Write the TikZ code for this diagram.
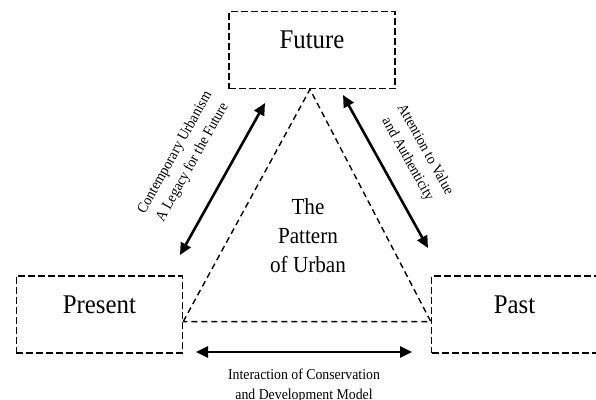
\documentclass[tikz,border=0pt]{standalone}
\usepackage{fontspec}
\setmainfont{Liberation Serif}[FakeStretch=0.92]
\usetikzlibrary{arrows.meta, positioning}

\begin{document}
\begin{tikzpicture}[
  x=1pt, y=-1pt,
  node distance=186pt and 45pt,
  box/.style={rectangle, draw, dash pattern=on 7pt off 3pt, line width=1.6pt, minimum width=166pt, minimum height=77pt, inner sep=0pt, text height=19pt, text depth=22pt, font=\fontsize{27}{30}\selectfont},
  tri/.style={dash pattern=on 6pt off 4pt, line width=1.4pt},
  dbl/.style={{Triangle[length=12pt, width=11pt]}-{Triangle[length=12pt, width=11pt]}, line width=2.6pt},
  note/.style={font=\fontsize{15}{20}\selectfont, align=center, inner sep=0pt}
]
  \useasboundingbox (0,0) rectangle (596,399);

  \node[box] (future) at (312,50) {Future};
  \node[box, below left=of future] (present) {Present};
  \node[box, below right=186pt and 35pt of future] (past) {Past};
  \node[align=center, inner sep=0pt, font=\fontsize{23}{29}\selectfont] (pattern) at (308,236) {The\\Pattern\\of Urban};

  % arrow ends
  \coordinate (legacyA) at (180,255);
  \coordinate (legacyB) at (265,103);
  \coordinate (valueA) at (343,95);
  \coordinate (valueB) at (428,248);
  \coordinate (modelA) at (196,352);
  \coordinate (modelB) at (412,352);

  \draw[tri] ([yshift=-7pt]present.east) -- ([xshift=-2pt]future.south) -- ([yshift=-7pt]past.west) -- cycle;

  \draw[dbl] (legacyA) -- node[note, sloped, above=26pt] {Contemporary Urbanism\\A Legacy for the Future} (legacyB);
  \draw[dbl] (valueA) -- node[note, sloped, above=17pt] {Attention to Value\\and Authenticity} (valueB);
  \draw[dbl] (modelA) -- node[note, below=16pt] {Interaction of Conservation\\and Development Model} (modelB);
\end{tikzpicture}
\end{document}
